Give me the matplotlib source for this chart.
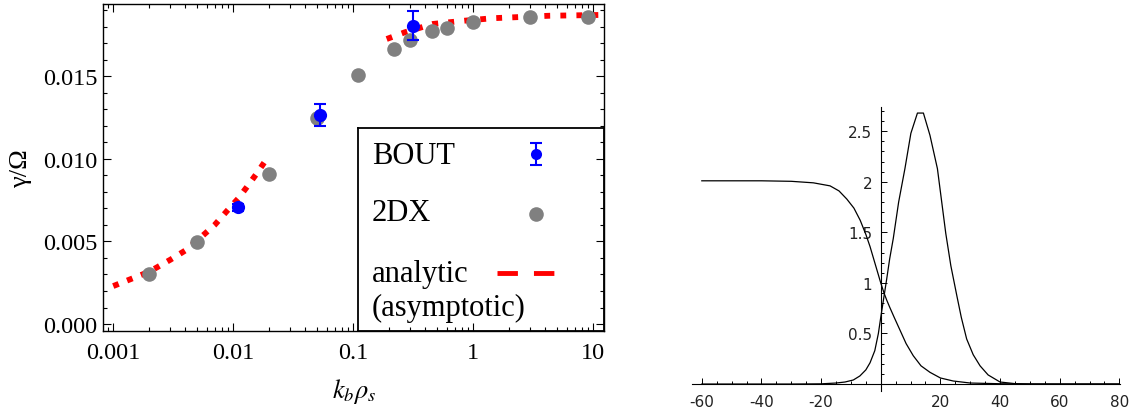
import numpy as np
import matplotlib
matplotlib.use("Agg")
import matplotlib.pyplot as plt

plt.rcParams['mathtext.fontset'] = 'stix'
SERIF = 'Liberation Serif'

# ---- left panel data ----
dx_k = [0.002, 0.005, 0.02, 0.05, 0.11, 0.22, 0.30, 0.45, 0.60, 1.0, 3.0, 9.0]
dx_gamma = [0.00303, 0.00497, 0.0091, 0.0125, 0.0151, 0.01666, 0.0172,
            0.01777, 0.01795, 0.01831, 0.01861, 0.0186]

bout_k = [0.011, 0.053, 0.316]
bout_gamma = [0.00707, 0.01266, 0.01807]
bout_err = [0.0002, 0.00064, 0.0009]

asym_lo_k = [0.001, 0.002, 0.003, 0.004, 0.005, 0.007, 0.009, 0.011, 0.013, 0.016, 0.019]
asym_lo_gamma = [0.0023, 0.00317, 0.0039, 0.00446, 0.00505, 0.006, 0.0069,
                 0.0076, 0.0083, 0.0092, 0.0100]
asym_hi_k = [0.19, 0.27, 0.46, 0.85, 1.46, 4.35, 12.3]
asym_hi_gamma = [0.01726, 0.01767, 0.01817, 0.01837, 0.01852, 0.01867, 0.01872]

xticks = [0.001, 0.01, 0.1, 1, 10]
xticklabels = ['0.001', '0.01', '0.1', '1', '10']
yticks = [0.0, 0.005, 0.010, 0.015]
yticklabels = ['0.000', '0.005', '0.010', '0.015']

# ---- right panel data ----
step_x = [-60, -40, -30, -22.6, -17, -14, -11.4, -9, -6.9, -5, -3.6, -2, 0, 1.1, 2,
          3, 4.5, 6.5, 8.5, 10.9, 13.5, 16.5, 20, 24.3, 30, 40, 50, 60, 70, 80]
step_y = [2.01, 2.01, 2.005, 1.99, 1.96, 1.91, 1.83, 1.74, 1.62, 1.48, 1.36, 1.2,
          1.0, 0.9, 0.83, 0.76, 0.66, 0.53, 0.40, 0.28, 0.18, 0.116, 0.06, 0.03,
          0.01, 0.003, 0.001, 0.0, 0.0, 0.0]

bell_x = [-60, -40, -30, -20, -15, -12, -9.2, -7, -5, -3.6, -2, -0.8, 0, 1, 2, 3,
          4.2, 6, 8.1, 10.1, 12.3, 14.3, 16.5, 19, 21.8, 23.5, 25.5, 27, 28.8, 31,
          33.3, 36, 40, 45, 50, 60, 70, 80]
bell_y = [0.0, 0.0, 0.0, 0.002, 0.01, 0.02, 0.04, 0.08, 0.14, 0.21, 0.33, 0.5,
          0.66, 0.85, 1.04, 1.24, 1.44, 1.8, 2.13, 2.48, 2.68, 2.68, 2.46, 2.13,
          1.49, 1.17, 0.875, 0.66, 0.446, 0.29, 0.18, 0.09, 0.02, 0.004, 0.0,
          0.0, 0.0, 0.0]

fig = plt.figure(figsize=(11.3, 4.1), dpi=100)

# ================= left panel =================
ax = fig.add_axes([0.0914, 0.1895, 0.4431, 0.7983])
ax.set_axisbelow(False)
ax.set_xscale('log')
ax.set_xlim(0.000826, 12.3)
ax.set_ylim(-0.00044, 0.01938)

ax.plot(asym_lo_k, asym_lo_gamma, color='red', lw=4.2, dashes=(1.0, 1.55),
        dash_capstyle='butt', zorder=2)
ax.plot(asym_hi_k, asym_hi_gamma, color='red', lw=4.2, dashes=(1.0, 1.75),
        dash_capstyle='butt', zorder=2)
ax.plot(dx_k, dx_gamma, 'o', color='#808080', ms=10.5, mec='none', zorder=3)
ax.errorbar(bout_k, bout_gamma, yerr=bout_err, fmt='o', color='#0000ff', ms=9.5,
            mec='none', ecolor='#0000ff', elinewidth=1.5, capsize=4, capthick=1.5,
            zorder=4)

ax.set_xticks(xticks)
ax.set_xticklabels(xticklabels)
ax.set_yticks(yticks)
ax.set_yticklabels(yticklabels)
ax.set_yticks(np.arange(0.0, 0.0195, 0.001), minor=True)
ax.tick_params(which='both', direction='in', top=True, right=True, width=0.8)
ax.tick_params(which='major', length=5.5, labelsize=17.5)
ax.tick_params(which='minor', length=3)
ax.tick_params(axis='x', pad=8)
ax.tick_params(axis='y', pad=4)
for lab in ax.get_xticklabels() + ax.get_yticklabels():
    lab.set_fontfamily(SERIF)
for sp in ax.spines.values():
    sp.set_linewidth(1.0)

ax.set_xlabel(r'$k_b\rho_s$', fontsize=19, labelpad=9)
ax.set_ylabel('γ/Ω', fontsize=19, fontfamily=SERIF, labelpad=8)

# legend box in the lower right corner (drawn under the frame ticks)
lg = ax.inset_axes([0.509, 0.0, 0.491, 0.621])
lg.set_xlim(0, 1)
lg.set_ylim(0, 1)
lg.set_xticks([])
lg.set_yticks([])
lg.patch.set_facecolor('white')
for sp in lg.spines.values():
    sp.set_linewidth(1.3)
lg.set_zorder(2.2)
lg.text(0.056, 0.866, 'BOUT', fontsize=22, fontfamily=SERIF, va='center')
lg.text(0.056, 0.585, '2DX', fontsize=22, fontfamily=SERIF, va='center')
lg.text(0.056, 0.285, 'analytic', fontsize=22, fontfamily=SERIF, va='center')
lg.text(0.056, 0.115, '(asymptotic)', fontsize=22, fontfamily=SERIF, va='center')
lg.errorbar([0.725], [0.873], yerr=[0.054], fmt='o', color='#0000ff', ms=8,
            mec='none', elinewidth=1.5, capsize=4, capthick=1.5)
lg.plot([0.725], [0.578], 'o', color='#808080', ms=10.5, mec='none')
lg.plot([0.563, 0.854], [0.288, 0.288], color='red', lw=3.5, dashes=(4.2, 3.3),
        dash_capstyle='butt')

# ================= right panel =================
ax2 = fig.add_axes([0.6121, 0.0446, 0.379, 0.692])
ax2.set_xlim(-63.4, 80.2)
ax2.set_ylim(-0.066, 2.74)
ax2.plot(step_x, step_y, color='black', lw=0.9)
ax2.plot(bell_x, bell_y, color='black', lw=0.9)
ax2.spines['top'].set_visible(False)
ax2.spines['right'].set_visible(False)
ax2.spines['left'].set_position(('data', 0))
ax2.spines['bottom'].set_position(('data', 0))
ax2.spines['left'].set_linewidth(0.8)
ax2.spines['bottom'].set_linewidth(0.8)
ax2.patch.set_visible(False)

ax2.set_xticks([-60, -40, -20, 20, 40, 60, 80])
ax2.set_xticklabels(['-60', '-40', '-20', '20', '40', '60', '80'])
ax2.set_xticks(np.arange(-60, 81, 5), minor=True)
ax2.set_yticks([0.5, 1, 1.5, 2, 2.5])
ax2.set_yticklabels(['0.5', '1', '1.5', '2', '2.5'])
ax2.set_yticks(np.arange(0.1, 2.75, 0.1), minor=True)
ax2.tick_params(which='both', direction='in', width=0.7, labelsize=11,
                labelcolor='#222222')
ax2.tick_params(which='major', length=4.5)
ax2.tick_params(which='minor', length=2.5)
ax2.tick_params(axis='x', pad=7)
ax2.tick_params(axis='y', pad=6)

fig.savefig('out.png', dpi=100)
